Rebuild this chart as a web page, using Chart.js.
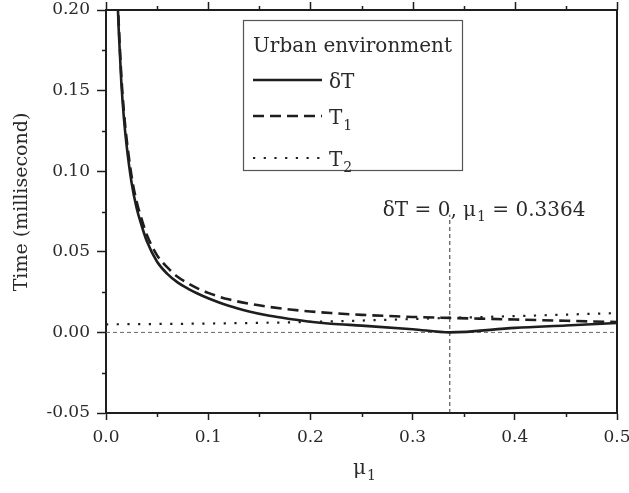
<!DOCTYPE html>
<html>
<head>
<meta charset="utf-8">
<script src="https://cdn.jsdelivr.net/npm/chart.js@4.4.0/dist/chart.umd.min.js"></script>
<style>
  html, body { margin: 0; padding: 0; background: #fff; }
  #chart { display: block; }
</style>
</head>
<body>
<canvas id="chart" width="629" height="493"></canvas>
<script>
// values
var mu = [0.010, 0.0115, 0.0125, 0.015, 0.0175, 0.02, 0.025, 0.03, 0.035, 0.04, 0.05, 0.06, 0.07, 0.08, 0.09,
          0.10, 0.12, 0.14, 0.16, 0.18, 0.20, 0.22, 0.25, 0.30, 0.3364, 0.40, 0.45, 0.50];
var deltaT = [0.235, 0.203, 0.187, 0.155, 0.133, 0.117, 0.093, 0.077, 0.066, 0.0565, 0.0438, 0.0363, 0.031, 0.0272, 0.0240,
              0.0212, 0.0165, 0.0130, 0.0103, 0.0083, 0.0066, 0.0054, 0.0042, 0.0020, 0.0, 0.0028, 0.0043, 0.0058];
var t1 = [0.239, 0.207, 0.191, 0.159, 0.137, 0.121, 0.097, 0.081, 0.070, 0.0605, 0.0478, 0.0403, 0.0345, 0.0305, 0.0272,
          0.0245, 0.0205, 0.0178, 0.0158, 0.0142, 0.0130, 0.0120, 0.0109, 0.0096, 0.0090, 0.0080, 0.0072, 0.0064];
var muT2 = [0.0, 0.1, 0.2, 0.3, 0.3364, 0.4, 0.5];
var t2 = [0.0050, 0.0055, 0.0065, 0.0083, 0.0090, 0.0101, 0.0120];

var zeroCross = 0.3364;
var markerTop = 0.073;

var xTicks = [0, 0.1, 0.2, 0.3, 0.4, 0.5];
var xMinor = [0.05, 0.15, 0.25, 0.35, 0.45];
var yTicks = [-0.05, 0, 0.05, 0.1, 0.15, 0.2];
var yMinor = [-0.025, 0.025, 0.075, 0.125, 0.175];

var legendTitle = 'Urban environment';
var seriesNames = [['δT', ''], ['T', '1'], ['T', '2']];

var serif = '"DejaVu Serif", serif';
var ink = '#1e1e1e';
var textInk = '#2a2a2a';

function pts(xs, ys) {
    return xs.map(function (x, i) { return {x: x, y: ys[i]}; });
}

// draw main text followed by a subscript, returns end x
function subText(c, x, y, main, sub, size) {
    c.font = size + 'px ' + serif;
    c.fillText(main, x, y);
    var w = c.measureText(main).width;
    if (sub) {
        c.font = Math.round(size * 0.7) + 'px ' + serif;
        c.fillText(sub, x + w + 1, y + size * 0.28);
        w += c.measureText(sub).width + 1;
    }
    return x + w;
}

function measureSub(c, main, sub, size) {
    c.font = size + 'px ' + serif;
    var w = c.measureText(main).width;
    if (sub) {
        c.font = Math.round(size * 0.7) + 'px ' + serif;
        w += c.measureText(sub).width + 1;
    }
    return w;
}

var decorations = {
    id: 'decorations',
    afterDatasetsDraw: function (chart) {
        var c = chart.ctx;
        var a = chart.chartArea;
        var xs = chart.scales.x, ys = chart.scales.y;
        c.save();

        // top and right frame
        c.strokeStyle = ink;
        c.lineWidth = 2;
        c.beginPath();
        c.moveTo(a.left, a.top);
        c.lineTo(a.right, a.top);
        c.lineTo(a.right, a.bottom);
        c.stroke();

        // ticks on top, minor ticks left and bottom
        c.lineWidth = 1.5;
        c.beginPath();
        xTicks.forEach(function (v) {
            var px = Math.round(xs.getPixelForValue(v)) + 0.5;
            c.moveTo(px, a.top); c.lineTo(px, a.top - 8);
        });
        xMinor.forEach(function (v) {
            var px = Math.round(xs.getPixelForValue(v)) + 0.5;
            c.moveTo(px, a.top); c.lineTo(px, a.top - 4);
            c.moveTo(px, a.bottom); c.lineTo(px, a.bottom + 4);
        });
        yMinor.forEach(function (v) {
            var py = Math.round(ys.getPixelForValue(v)) + 0.5;
            c.moveTo(a.left, py); c.lineTo(a.left - 4, py);
        });
        c.stroke();

        // legend
        var lx = 243.5, ly = 20.5, lw = 219, lh = 150;
        c.fillStyle = '#fff';
        c.fillRect(lx, ly, lw, lh);
        c.strokeStyle = '#555';
        c.lineWidth = 1.2;
        c.strokeRect(lx, ly, lw, lh);
        c.fillStyle = textInk;
        c.textBaseline = 'alphabetic';
        c.textAlign = 'left';
        c.font = '20px ' + serif;
        c.fillText(legendTitle, 253, 52);
        var rows = [80, 116, 158];
        chart.data.datasets.slice(0, 3).forEach(function (ds, i) {
            c.strokeStyle = ds.borderColor;
            c.lineWidth = ds.borderWidth;
            c.setLineDash(ds.borderDash || []);
            c.beginPath();
            c.moveTo(253, rows[i]);
            c.lineTo(322, rows[i]);
            c.stroke();
            c.setLineDash([]);
            c.fillStyle = textInk;
            subText(c, 329, rows[i] + 8, seriesNames[i][0], seriesNames[i][1], 20);
        });

        // annotation at the zero crossing
        var parts = [['δT = 0, μ', '1'], [' = 0.3364', '']];
        var total = 0;
        parts.forEach(function (p) { total += measureSub(c, p[0], p[1], 20); });
        var cx = xs.getPixelForValue(0.37);
        var by = ys.getPixelForValue(markerTop) + 1;
        var x = cx - total / 2;
        parts.forEach(function (p) { x = subText(c, x, by, p[0], p[1], 20); });

        // axis titles
        c.save();
        c.translate(27, 202);
        c.rotate(-Math.PI / 2);
        c.textAlign = 'center';
        c.font = '19px ' + serif;
        c.fillText('Time (millisecond)', 0, 0);
        c.restore();

        c.textAlign = 'left';
        subText(c, 353, 474, 'μ', '1', 20);

        c.restore();
    }
};

var cfg = {
    type: 'line',
    data: {
        datasets: [{
            label: 'δT',
            data: pts(mu, deltaT),
            borderColor: ink,
            borderWidth: 2.6,
            pointRadius: 0,
            cubicInterpolationMode: 'monotone'
        }, {
            label: 'T1',
            data: pts(mu, t1),
            borderColor: ink,
            borderWidth: 2.6,
            borderDash: [11, 6],
            pointRadius: 0,
            cubicInterpolationMode: 'monotone'
        }, {
            label: 'T2',
            data: pts(muT2, t2),
            borderColor: ink,
            borderWidth: 2.2,
            borderDash: [2.2, 8.5],
            pointRadius: 0,
            cubicInterpolationMode: 'monotone'
        }, {
            label: 'zero',
            data: pts([0, 0.5], [0, 0]),
            borderColor: '#666',
            borderWidth: 1,
            borderDash: [4, 3],
            pointRadius: 0
        }, {
            label: 'crossing',
            data: pts([zeroCross, zeroCross], [-0.05, markerTop]),
            borderColor: '#333',
            borderWidth: 1,
            borderDash: [4, 3],
            pointRadius: 0
        }]
    },
    options: {
        responsive: false,
        animation: false,
        devicePixelRatio: 1,
        layout: { padding: { top: 10, right: 12, left: 0, bottom: 0 } },
        plugins: {
            legend: { display: false },
            tooltip: { enabled: false }
        },
        scales: {
            x: {
                type: 'linear',
                min: 0,
                max: 0.5,
                afterFit: function (s) {
                    s.height = 80;
                    s.paddingLeft = 0; s.paddingRight = 0;
                },
                afterBuildTicks: function (s) { s.ticks = xTicks.map(function (v) { return {value: v}; }); },
                ticks: {
                    color: textInk,
                    padding: 7,
                    font: { family: serif, size: 17 },
                    callback: function (v) { return v.toFixed(1); }
                },
                grid: { display: true, drawOnChartArea: false, drawTicks: true, tickLength: 7, tickColor: ink, tickWidth: 1.5 },
                border: { display: true, color: ink, width: 2 }
            },
            y: {
                type: 'linear',
                min: -0.05,
                max: 0.2,
                afterFit: function (s) {
                    s.width = 106;
                    s.paddingTop = 0; s.paddingBottom = 0;
                },
                afterBuildTicks: function (s) { s.ticks = yTicks.map(function (v) { return {value: v}; }); },
                ticks: {
                    color: textInk,
                    padding: 7,
                    font: { family: serif, size: 17 },
                    callback: function (v) { return v.toFixed(2); }
                },
                grid: { display: true, drawOnChartArea: false, drawTicks: true, tickLength: 9, tickColor: ink, tickWidth: 1.5 },
                border: { display: true, color: ink, width: 2 }
            }
        }
    },
    plugins: [decorations]
};

var chart = new Chart(document.getElementById('chart'), cfg);
</script>
</body>
</html>
